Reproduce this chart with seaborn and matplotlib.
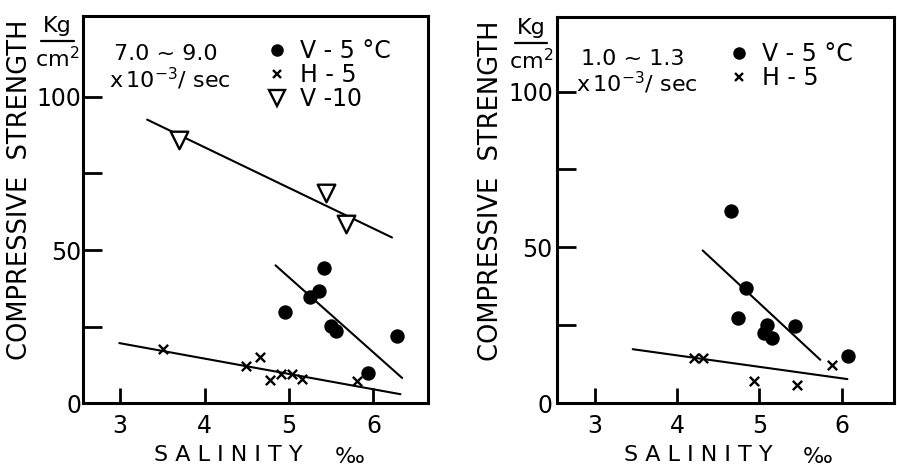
import numpy as np
import pandas as pd
import matplotlib
matplotlib.use("Agg")
import matplotlib.pyplot as plt
from matplotlib.lines import Line2D
import seaborn as sns

# Left panel: strain rate 7.0~9.0 x10^-3/sec
left_v5_sal = [5.41, 5.35, 5.25, 4.95, 5.50, 5.56, 6.28, 5.94]
left_v5_str = [44.2, 36.6, 34.6, 29.7, 25.2, 23.4, 22.0, 9.8]
left_h5_sal = [3.51, 4.49, 4.66, 4.77, 4.90, 5.04, 5.15, 5.80]
left_h5_str = [17.6, 12.2, 15.2, 7.4, 9.6, 9.6, 7.9, 7.3]
left_v10_sal = [3.70, 5.44, 5.68]
left_v10_str = [85.9, 68.7, 58.5]
# fitted lines (end points)
left_v5_fit_x = [4.84, 6.34]
left_v5_fit_y = [45.0, 8.2]
left_h5_fit_x = [2.99, 6.32]
left_h5_fit_y = [19.6, 2.9]
left_v10_fit_x = [3.32, 6.22]
left_v10_fit_y = [92.6, 54.1]

# Right panel: strain rate 1.0~1.3 x10^-3/sec
right_v5_sal = [4.65, 4.84, 4.74, 5.09, 5.05, 5.15, 5.43, 6.08]
right_v5_str = [61.8, 37.1, 27.3, 25.1, 22.5, 20.9, 24.6, 15.0]
right_h5_sal = [4.20, 4.31, 4.94, 5.46, 5.88]
right_h5_str = [14.4, 14.4, 7.0, 5.9, 12.3]
right_v5_fit_x = [4.31, 5.74]
right_v5_fit_y = [49.0, 13.9]
right_h5_fit_x = [3.46, 6.07]
right_h5_fit_y = [17.3, 7.7]

x_ticks = [3, 4, 5, 6]
y_ticks = [0, 25, 50, 75, 100]
y_tick_labels = ["0", "", "50", "", "100"]

sns.set_style("ticks", rc={"text.color": "black", "axes.labelcolor": "black",
                           "xtick.color": "black", "ytick.color": "black",
                           "axes.edgecolor": "black"})
plt.rcParams['font.family'] = ['DejaVu Sans']

fig = plt.figure(figsize=(8.97, 4.66), dpi=100)
ax1 = fig.add_axes([0.0925, 0.135, 0.385, 0.831])
ax2 = fig.add_axes([0.621, 0.135, 0.376, 0.829])


def draw_series(ax, sal, val, marker, size, face):
    df = pd.DataFrame({"salinity": sal, "strength": val})
    if marker == "x":
        sns.scatterplot(data=df, x="salinity", y="strength", marker="x", s=size,
                        color="black", linewidth=1.7, ax=ax, zorder=3)
    else:
        sns.scatterplot(data=df, x="salinity", y="strength", marker=marker, s=size,
                        facecolor=face, edgecolor="black", linewidth=1.7, ax=ax, zorder=3)


def draw_fit(ax, fx, fy):
    sns.lineplot(x=fx, y=fy, color="black", linewidth=1.5, ax=ax, zorder=2)


def style_axes(ax, xlim, ylim, ypad):
    ax.set_xlim(*xlim)
    ax.set_ylim(*ylim)
    ax.set_xticks(x_ticks)
    ax.set_yticks(y_ticks)
    ax.set_yticklabels(y_tick_labels)
    ax.tick_params(direction="in", width=2, labelsize=17)
    ax.tick_params(axis="y", length=14, pad=ypad)
    ax.tick_params(axis="x", length=11, pad=8)
    for s in ax.spines.values():
        s.set_linewidth(2.2)
        s.set_visible(True)
    ax.set_xlabel("S A L I N I T Y", fontsize=16, labelpad=5)
    ax.xaxis.get_label().set_x(0.42)
    ax.set_ylabel("COMPRESSIVE  STRENGTH", fontsize=18.5, labelpad=3)
    ax.yaxis.get_label().set_y(0.55)
    ax.text(0.73, -0.155, "‰", transform=ax.transAxes, fontsize=16, ha="left")


# left panel
draw_fit(ax1, left_v10_fit_x, left_v10_fit_y)
draw_fit(ax1, left_v5_fit_x, left_v5_fit_y)
draw_fit(ax1, left_h5_fit_x, left_h5_fit_y)
draw_series(ax1, left_v5_sal, left_v5_str, "o", 75, "black")
draw_series(ax1, left_h5_sal, left_h5_str, "x", 45, "black")
draw_series(ax1, left_v10_sal, left_v10_str, "v", 160, "white")
style_axes(ax1, (2.56, 6.65), (0, 126.5), 1)

ax1.text(0.24, 0.885, "7.0 ~ 9.0", transform=ax1.transAxes, fontsize=16, ha="center")
ax1.text(0.25, 0.815, r"x$\,10^{-3}$/ sec", transform=ax1.transAxes, fontsize=16, ha="center")

h1 = [Line2D([], [], marker="o", ls="", color="black", markersize=8),
      Line2D([], [], marker="x", ls="", color="black", markersize=6, mew=1.7),
      Line2D([], [], marker="v", ls="", mfc="white", mec="black", markersize=12, mew=1.7)]
ax1.legend(h1, ["V - 5 °C", "H - 5", "V -10"], loc="upper left",
           bbox_to_anchor=(0.455, 0.995), frameon=False, fontsize=17,
           handletextpad=0.35, labelspacing=0.0, handlelength=1.3)

# right panel
draw_fit(ax2, right_v5_fit_x, right_v5_fit_y)
draw_fit(ax2, right_h5_fit_x, right_h5_fit_y)
draw_series(ax2, right_v5_sal, right_v5_str, "o", 75, "black")
draw_series(ax2, right_h5_sal, right_h5_str, "x", 45, "black")
style_axes(ax2, (2.54, 6.64), (0, 124), 3)

ax2.text(0.225, 0.875, "1.0 ~ 1.3", transform=ax2.transAxes, fontsize=16, ha="center")
ax2.text(0.235, 0.805, r"x$\,10^{-3}$/ sec", transform=ax2.transAxes, fontsize=16, ha="center")

h2 = [Line2D([], [], marker="o", ls="", color="black", markersize=8),
      Line2D([], [], marker="x", ls="", color="black", markersize=6, mew=1.7)]
ax2.legend(h2, ["V - 5 °C", "H - 5"], loc="upper left",
           bbox_to_anchor=(0.43, 0.99), frameon=False, fontsize=17,
           handletextpad=0.35, labelspacing=0.0, handlelength=1.3)

# units label Kg / cm2 above the y axis
for xpos, ypos in [(0.064, 0.945), (0.592, 0.94)]:
    fig.text(xpos, ypos, "Kg", fontsize=16, ha="center", va="center")
    fig.add_artist(Line2D([xpos - 0.018, xpos + 0.018], [ypos - 0.032, ypos - 0.032],
                          color="black", linewidth=1.6))
    fig.text(xpos, ypos - 0.07, "cm$^2$", fontsize=16, ha="center", va="center")

fig.savefig("out.png", dpi=100)
